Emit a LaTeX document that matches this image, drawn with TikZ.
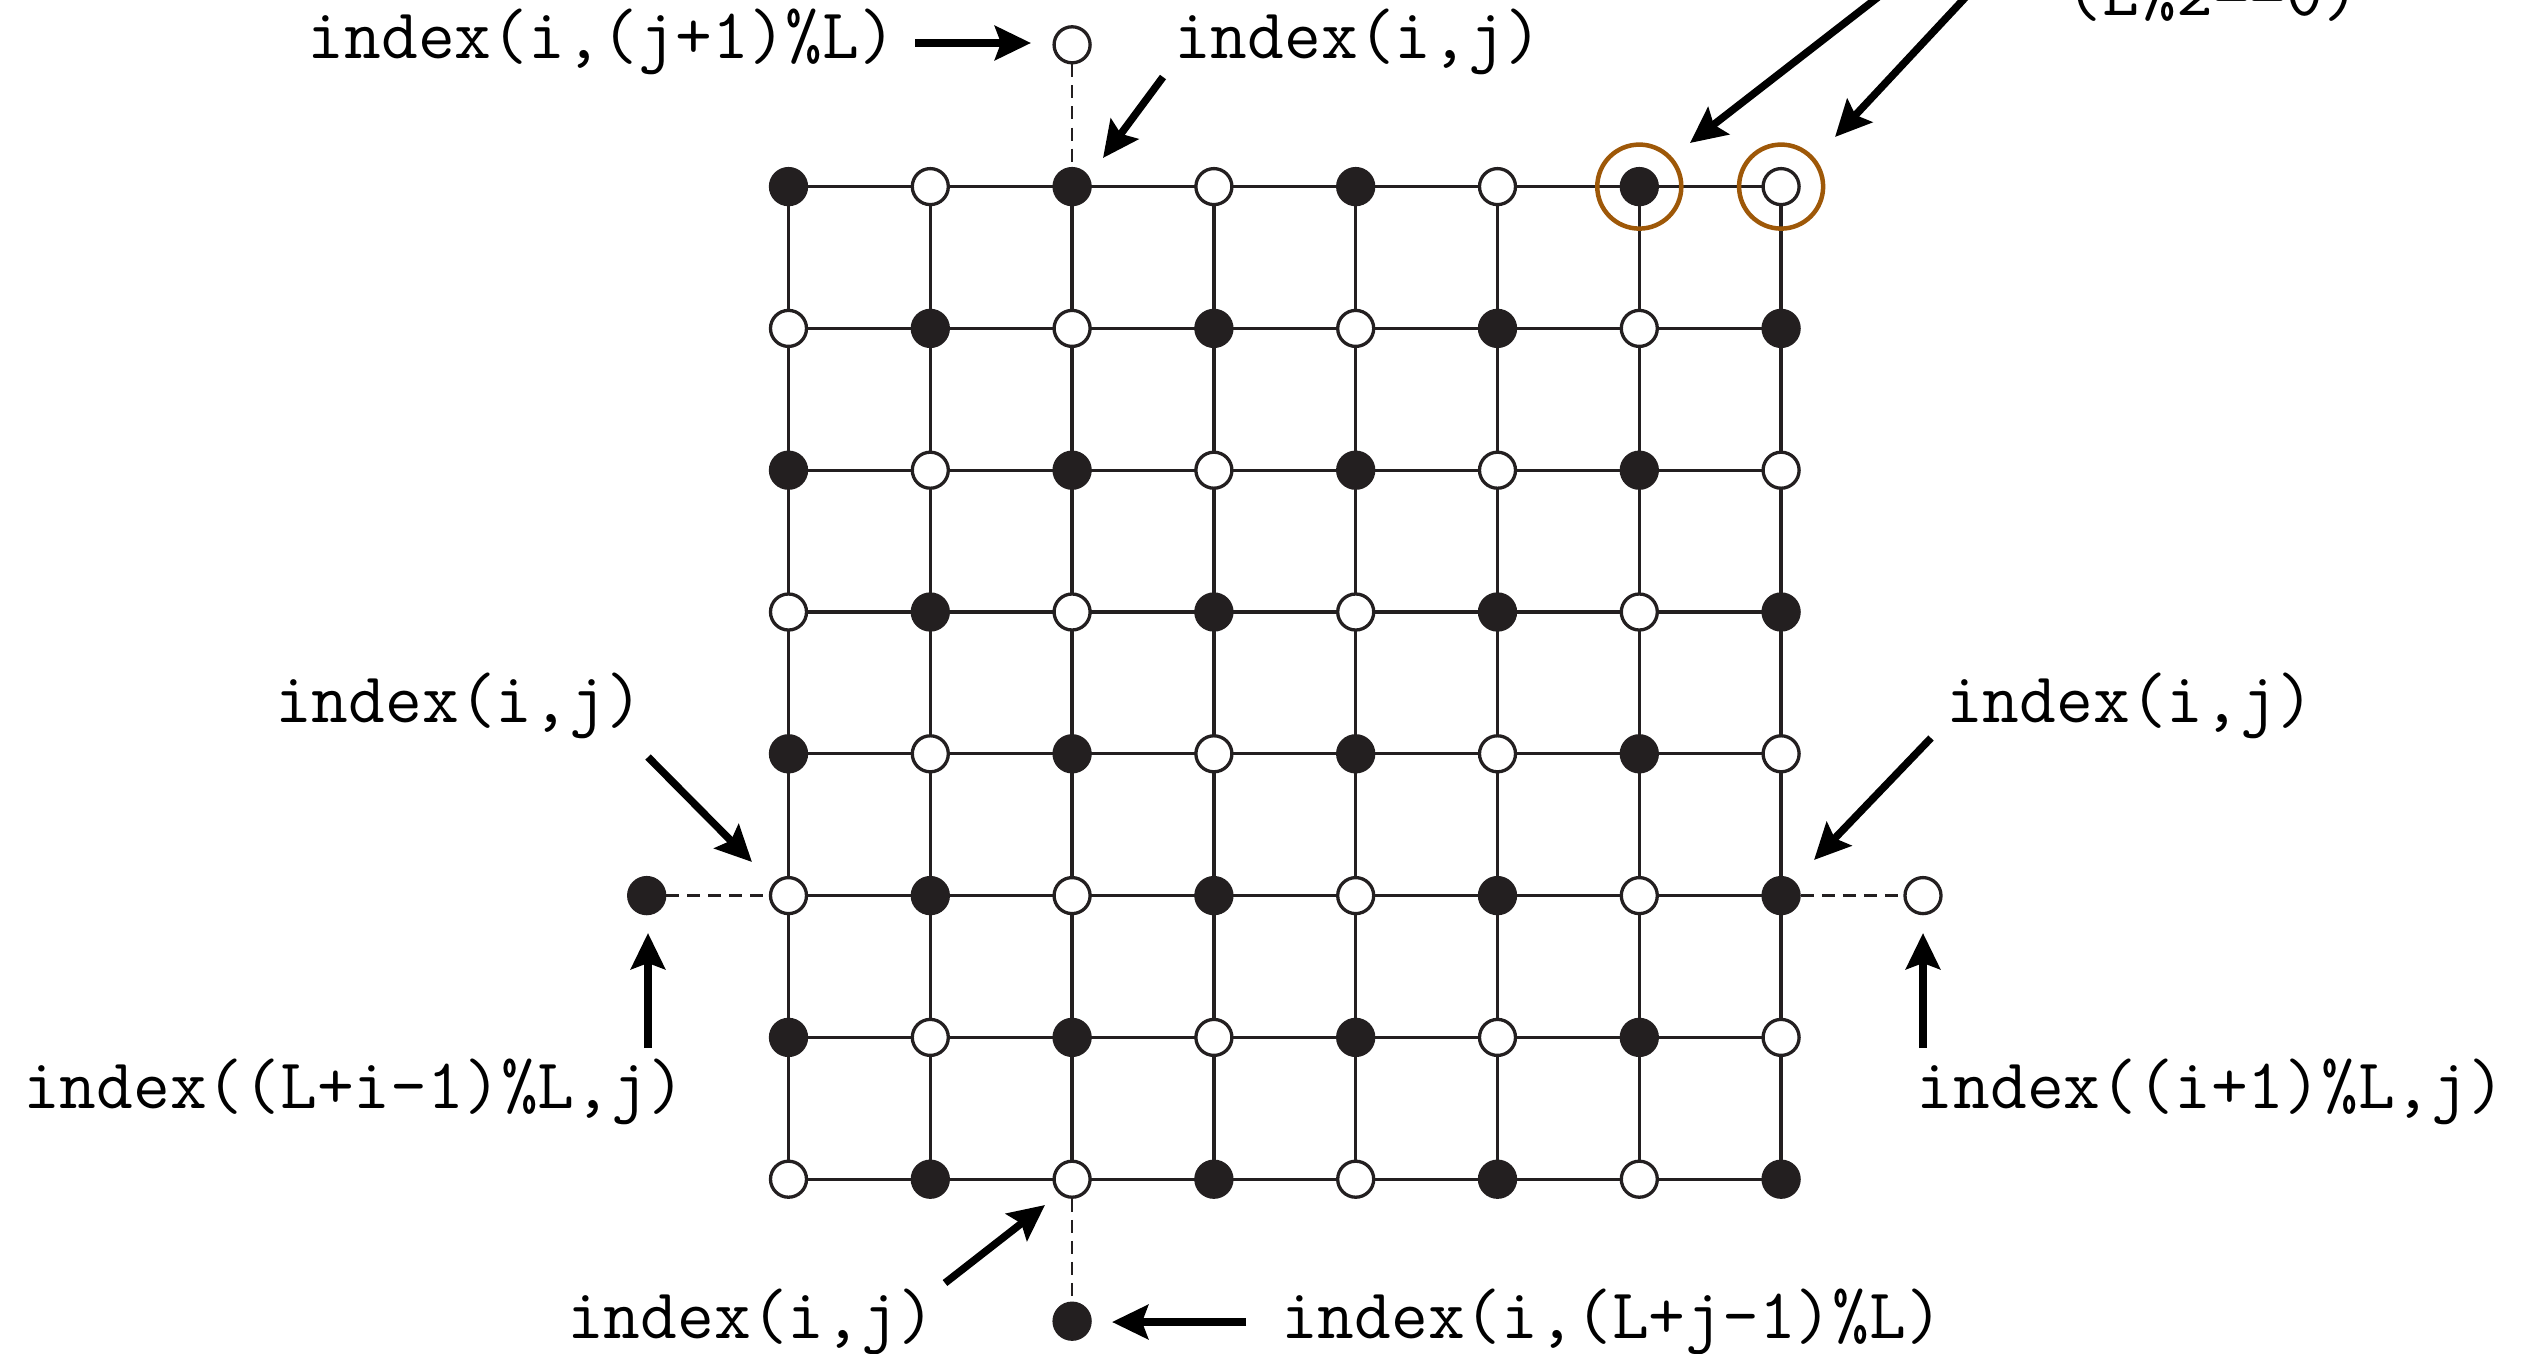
\documentclass[tikz,border=0pt]{standalone}
\usepackage{fontspec}
\usetikzlibrary{arrows.meta,backgrounds}
\definecolor{ink}{RGB}{35,31,32}
\definecolor{ring}{RGB}{158,88,8}
\tikzset{
  site/.style={circle,minimum size=0.36cm,inner sep=0pt,line width=0.033cm,draw=ink},
  fullsite/.style={site,fill=ink},
  opensite/.style={site,fill=white},
  bond/.style={line width=0.033cm,draw=ink},
  ghost/.style={line width=0.024cm,draw=ink,dash pattern=on 0.13cm off 0.08cm},
  lbl/.style={font=\ttfamily\fontsize{20.3pt}{22pt}\selectfont,inner sep=0pt,anchor=base},
  pointer/.style={line width=0.075cm,draw=black,-{Stealth[length=0.36cm,width=0.34cm,inset=0.06cm]}},
  halo/.style={circle,draw=ring,line width=0.045cm,minimum size=0.84cm,inner sep=0pt},
}
\begin{document}
\begin{tikzpicture}[x=0.01cm,y=-0.01cm]
\useasboundingbox (0,0) rectangle (2544,1354);
\clip (0,0) rectangle (2544,1354);
% lattice sites
\foreach \c in {0,...,7}{
  \foreach \r in {0,...,7}{
    \pgfmathtruncatemacro\s{\c+\r}
    \ifodd\s
      \node[opensite] (n\c-\r) at ({788.5+141.8*\c},{186.6+141.8*\r}) {};
    \else
      \node[fullsite] (n\c-\r) at ({788.5+141.8*\c},{186.6+141.8*\r}) {};
    \fi
  }
}
% bonds
\begin{scope}[on background layer]
  \foreach \r in {0,...,7}{\draw[bond] (n0-\r.center) -- (n7-\r.center);}
  \foreach \c in {0,...,7}{\draw[bond] (n\c-0.center) -- (n\c-7.center);}
\end{scope}
% ghost sites
\node[opensite] (xt) at (1072.1,44.8) {};
\node[fullsite] (xb) at (1072.1,1321.2) {};
\node[fullsite] (xl) at (646.7,895.6) {};
\node[opensite] (xr) at (1923.0,895.6) {};
\draw[ghost] (xt) -- (n2-0);
\draw[ghost] (n2-7) -- (xb);
\draw[ghost] (xl) -- (n0-5);
\draw[ghost] (n7-5) -- (xr);
% highlighted sites
\node[halo] (h1) at (n6-0) {};
\node[halo] (h2) at (n7-0) {};
% labels
\node[lbl] (t1) at (602,58) {index(i,(j+1)\%L)};
\node[lbl] (t2) at (1358,58) {index(i,j)};
\node[lbl] (t3) at (459,722) {index(i,j)};
\node[lbl] (t4) at (354,1108) {index((L+i-1)\%L,j)};
\node[lbl] (t5) at (2130,722) {index(i,j)};
\node[lbl] (t6) at (2211,1108) {index((i+1)\%L,j)};
\node[lbl] (t7) at (751,1338) {index(i,j)};
\node[lbl] (t8) at (1612,1338) {index(i,(L+j-1)\%L)};
\node[lbl] (t9) at (2213,15) {(L\%2==0)};
% arrow end points
\coordinate (a1s) at (915,43);   \coordinate (a1e) at (1031,43);
\coordinate (a2s) at (1163,77);  \coordinate (a2e) at (1103,158);
\coordinate (a3s) at (648,757);  \coordinate (a3e) at (752,862);
\coordinate (a4s) at (648,1048); \coordinate (a4e) at (648,933);
\coordinate (a5s) at (1931,738); \coordinate (a5e) at (1814,860);
\coordinate (a6s) at (1923,1048);\coordinate (a6e) at (1923,933);
\coordinate (a7s) at (945,1283); \coordinate (a7e) at (1045,1205);
\coordinate (a8s) at (1246,1322);\coordinate (a8e) at (1112,1322);
\coordinate (a9s) at (1913,-30); \coordinate (a9e) at (1690,143);
\coordinate (a10s) at (1991,-30);\coordinate (a10e) at (1835,137);
\foreach \k in {1,...,10}{\draw[pointer] (a\k s) -- (a\k e);}
\end{tikzpicture}
\end{document}
